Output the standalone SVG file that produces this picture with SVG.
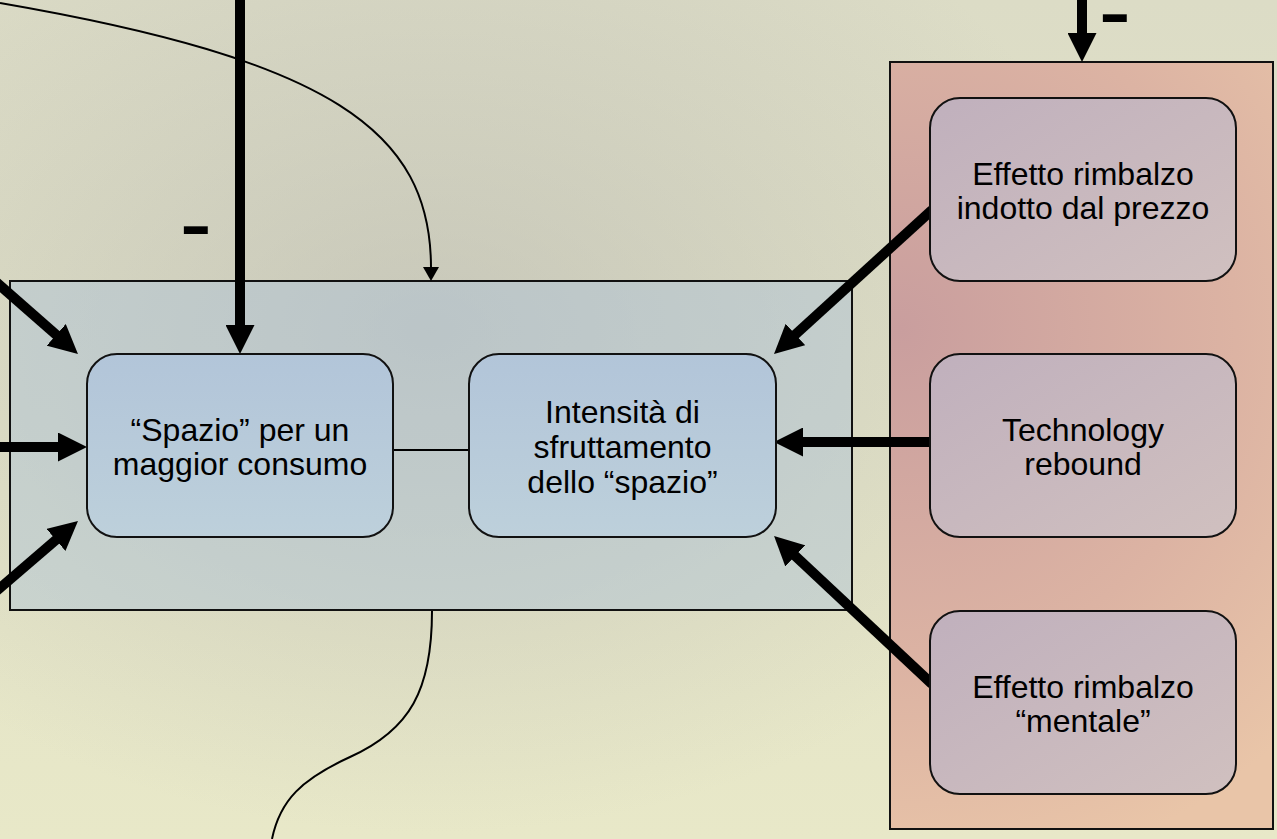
<svg xmlns="http://www.w3.org/2000/svg" width="1277" height="839" viewBox="0 0 1277 839">
<defs>
  <linearGradient id="bgLin" x1="0" y1="0" x2="0" y2="1">
    <stop offset="0" stop-color="#dcdcc6"/>
    <stop offset="1" stop-color="#e8e8c8"/>
  </linearGradient>
  <radialGradient id="bgRad" gradientUnits="userSpaceOnUse" cx="430" cy="330" r="560" gradientTransform="translate(430 330) scale(1.25 0.9) translate(-430 -330)">
    <stop offset="0" stop-color="#aaaaaa" stop-opacity="0.45"/>
    <stop offset="1" stop-color="#aaaaaa" stop-opacity="0"/>
  </radialGradient>
  <radialGradient id="redFill" gradientUnits="userSpaceOnUse" cx="900" cy="330" r="560">
    <stop offset="0" stop-color="#c99e9e"/>
    <stop offset="0.6" stop-color="#dcb3a3"/>
    <stop offset="1" stop-color="#e9c5a8"/>
  </radialGradient>
  <linearGradient id="blueNode" x1="0" y1="0" x2="0" y2="1">
    <stop offset="0" stop-color="#b2c5d9"/>
    <stop offset="1" stop-color="#bdd0db"/>
  </linearGradient>
  <linearGradient id="mauveNode" x1="0" y1="0" x2="1" y2="1">
    <stop offset="0" stop-color="#c0b0bd"/>
    <stop offset="1" stop-color="#d0c0bf"/>
  </linearGradient>
  <marker id="bigHead" markerUnits="userSpaceOnUse" markerWidth="29" markerHeight="29" viewBox="0 0 29 29" refX="14" refY="14.5" orient="auto">
    <path d="M0,0 L29,14.5 L0,29 Z" fill="#000"/>
  </marker>
  <marker id="smallHead" markerUnits="userSpaceOnUse" markerWidth="14" markerHeight="16" viewBox="0 0 14 16" refX="1" refY="8" orient="auto">
    <path d="M0,0 L14,8 L0,16 Z" fill="#000"/>
  </marker>
  <style>
    .container { stroke: #111; stroke-width: 2; }
    .node { stroke: #111; stroke-width: 2; }
    .label { font-family: "Liberation Sans", Arial, sans-serif; font-size: 32px; fill: #000; text-anchor: middle; }
    .minus { font-family: "Liberation Sans", Arial, sans-serif; font-size: 98px; fill: #000; }
    .thick { stroke: #000; stroke-width: 10; fill: none; marker-end: url(#bigHead); }
    .thin { stroke: #000; stroke-width: 2; fill: none; }
  </style>
</defs>

<rect x="0" y="0" width="1277" height="839" fill="url(#bgLin)"/>
<rect x="0" y="0" width="1277" height="839" fill="url(#bgRad)"/>

<g id="container-blue">
  <rect class="container" x="10" y="281" width="842" height="329" fill="#a8c0dc" fill-opacity="0.4"/>
</g>
<g id="container-red">
  <rect class="container" x="890" y="62" width="383" height="767" fill="url(#redFill)"/>
</g>

<g id="connectors">
  <path class="thin" d="M0,3 C330,60 431,130 431,268" marker-end="url(#smallHead)"/>
  <path class="thin" d="M432,611 C432,690 410,730 350,757 C302,779 280,800 272,839"/>
  <line class="thin" x1="393" y1="450" x2="469" y2="450"/>
  <line class="thick" x1="240" y1="0" x2="240" y2="339"/>
  <line class="thick" x1="-10" y1="276.7" x2="66.7" y2="344.1"/>
  <line class="thick" x1="-10" y1="447" x2="72" y2="447"/>
  <line class="thick" x1="-10" y1="596.6" x2="66.6" y2="530.8"/>
  <line class="thick" x1="932" y1="210" x2="785.1" y2="343.9"/>
  <line class="thick" x1="930" y1="442" x2="789" y2="442"/>
  <line class="thick" x1="932" y1="684" x2="785" y2="546.3"/>
  <line class="thick" x1="1082" y1="0" x2="1082" y2="47"/>
</g>

<g id="minus-1"><text class="minus" x="179.6" y="256">-</text></g>
<g id="minus-2"><text class="minus" x="1098.6" y="44">-</text></g>

<g id="node-spazio">
  <rect class="node" x="87" y="354" width="306" height="183" rx="30" ry="30" fill="url(#blueNode)"/>
  <text class="label" x="240" y="441">“Spazio” per un</text>
  <text class="label" x="240" y="475">maggior consumo</text>
</g>
<g id="node-intensita">
  <rect class="node" x="469" y="354" width="307" height="183" rx="30" ry="30" fill="url(#blueNode)"/>
  <text class="label" x="622.5" y="423">Intensità di</text>
  <text class="label" x="622.5" y="457.5">sfruttamento</text>
  <text class="label" x="622.5" y="492.5">dello “spazio”</text>
</g>
<g id="node-prezzo">
  <rect class="node" x="930" y="98" width="306" height="183" rx="30" ry="30" fill="url(#mauveNode)"/>
  <text class="label" x="1083" y="185">Effetto rimbalzo</text>
  <text class="label" x="1083" y="219">indotto dal prezzo</text>
</g>
<g id="node-technology">
  <rect class="node" x="930" y="354" width="306" height="183" rx="30" ry="30" fill="url(#mauveNode)"/>
  <text class="label" x="1083" y="441">Technology</text>
  <text class="label" x="1083" y="475">rebound</text>
</g>
<g id="node-mentale">
  <rect class="node" x="930" y="611" width="306" height="183" rx="30" ry="30" fill="url(#mauveNode)"/>
  <text class="label" x="1083" y="698">Effetto rimbalzo</text>
  <text class="label" x="1083" y="732">“mentale”</text>
</g>
</svg>
